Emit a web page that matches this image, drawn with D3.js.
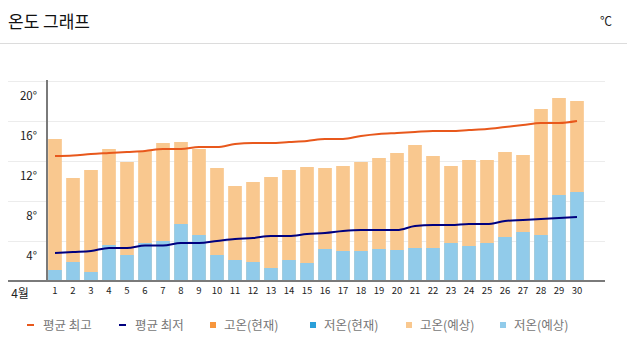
<!DOCTYPE html>
<html><head><meta charset="utf-8">
<script src="https://cdn.jsdelivr.net/npm/d3@7"></script>
<style>
html,body{margin:0;padding:0;background:#fff;}
svg{display:block;font-family:"Noto Sans CJK KR","Noto Sans",sans-serif;}
</style></head>
<body>
<svg id="c" width="627" height="353"></svg>
<script>
const days = d3.range(1, 31);
const highForecast = [14.2,10.3,11.1,13.2,11.9,13.0,13.8,13.9,13.2,11.3,9.5,9.9,10.4,11.1,11.4,11.3,11.5,11.9,12.3,12.8,13.6,12.5,11.5,12.1,12.1,12.9,12.6,17.2,18.3,18.0];
const lowForecast = [1.1,1.9,0.9,3.6,2.6,3.8,4.0,5.7,4.6,2.6,2.1,1.9,1.3,2.1,1.8,3.2,3.0,3.0,3.2,3.1,3.3,3.3,3.8,3.5,3.8,4.4,4.9,4.6,8.6,8.9];
const avgHigh = [12.5,12.55,12.7,12.8,12.9,13.0,13.2,13.2,13.4,13.4,13.7,13.8,13.8,13.9,14.0,14.2,14.2,14.5,14.7,14.8,14.9,15.0,15.0,15.1,15.2,15.4,15.6,15.8,15.8,16.0];
const avgLow = [2.8,2.9,3.0,3.3,3.3,3.55,3.55,3.8,3.8,4.0,4.2,4.3,4.5,4.5,4.7,4.8,5.0,5.1,5.1,5.1,5.5,5.6,5.6,5.7,5.7,6.0,6.1,6.2,6.3,6.4];
const yTicks = [4, 8, 12, 16, 20];
const monthLabel = "4월";
const title = "온도 그래프";
const unit = "℃";
const legendItems = [
  {label:"평균 최고", type:"line", color:"#e8581c"},
  {label:"평균 최저", type:"line", color:"#00007f"},
  {label:"고온(현재)", type:"rect", color:"#f7963c"},
  {label:"저온(현재)", type:"rect", color:"#2b9fd9"},
  {label:"고온(예상)", type:"rect", color:"#f9c88f"},
  {label:"저온(예상)", type:"rect", color:"#91cbea"}
];

const svg = d3.select("#c");

// header
svg.append("text").attr("x", 8).attr("y", 28).attr("font-size", 17).attr("fill", "#111").text(title);
svg.append("text").attr("x", 612).attr("y", 26).attr("font-size", 12).attr("fill", "#222").attr("text-anchor","end").text(unit);
svg.append("line").attr("x1",0).attr("x2",627).attr("y1",43.5).attr("y2",43.5).attr("stroke","#dcdcdc").attr("stroke-width",1);

const x = d3.scaleBand().domain(days).range([46, 586]).paddingInner(0.24).paddingOuter(0.12);
const y = d3.scaleLinear().domain([0, 20]).range([281, 81]);

// gridlines
svg.append("g").selectAll("line").data(yTicks).join("line")
  .attr("x1", 8).attr("x2", 605)
  .attr("y1", d => Math.round(y(d)) + 0.5).attr("y2", d => Math.round(y(d)) + 0.5)
  .attr("stroke", "#ececec").attr("stroke-width", 1);

// y labels
svg.append("g").selectAll("text").data(yTicks).join("text")
  .attr("x", 37).attr("y", d => y(d) + 19)
  .attr("text-anchor", "end").attr("font-size", 11.5).attr("fill", "#222")
  .text(d => d + "°");

// bars
svg.append("g").selectAll("rect").data(days).join("rect")
  .attr("x", d => x(d)).attr("width", x.bandwidth())
  .attr("y", (d,i) => y(highForecast[i])).attr("height", (d,i) => y(0) - y(highForecast[i]))
  .attr("fill", "#f9c88f");
svg.append("g").selectAll("rect").data(days).join("rect")
  .attr("x", d => x(d)).attr("width", x.bandwidth())
  .attr("y", (d,i) => y(lowForecast[i])).attr("height", (d,i) => y(0) - y(lowForecast[i]))
  .attr("fill", "#91cbea");

// lines
const line = d3.line().x((d,i) => x(days[i]) + x.bandwidth()/2).y(d => y(d)).curve(d3.curveMonotoneX);
svg.append("path").datum(avgHigh).attr("d", line).attr("fill","none").attr("stroke","#e8581c").attr("stroke-width",2);
svg.append("path").datum(avgLow).attr("d", line).attr("fill","none").attr("stroke","#00007f").attr("stroke-width",2);

// axes lines
svg.append("line").attr("x1", 47).attr("x2", 47).attr("y1", 80).attr("y2", 281).attr("stroke","#7a7a7a").attr("stroke-width",2);
svg.append("line").attr("x1", 8).attr("x2", 605).attr("y1", 281).attr("y2", 281).attr("stroke","#7a7a7a").attr("stroke-width",2);

// x labels
const xAxis = d3.axisBottom(x).tickSize(0).tickPadding(0);
const gx = svg.append("g").attr("transform","translate(0,287)").call(xAxis);
gx.select(".domain").remove();
gx.selectAll("text").attr("font-size", 9.5).attr("fill","#222").attr("font-family","\"Noto Sans CJK KR\",sans-serif").attr("dy","0.71em");
svg.append("text").attr("x", 20).attr("y", 298).attr("text-anchor","middle").attr("font-size",12).attr("fill","#222").text(monthLabel);

// legend
const legendX = [27, 119, 210, 310, 406, 500];
const lg = svg.append("g").selectAll("g").data(legendItems).join("g")
  .attr("transform", (d,i) => `translate(${legendX[i]},325)`);
lg.each(function(d){
  const g = d3.select(this);
  if (d.type === "line") {
    g.append("rect").attr("x",0).attr("y",-1).attr("width",7).attr("height",2).attr("fill",d.color);
    g.append("text").attr("x",16).attr("y",4.5).attr("font-size",12.5).attr("fill","#777").text(d.label);
  } else {
    g.append("rect").attr("x",0).attr("y",-3).attr("width",6).attr("height",6).attr("fill",d.color);
    g.append("text").attr("x",14).attr("y",4.5).attr("font-size",12.5).attr("fill","#777").text(d.label);
  }
});
</script>
</body></html>
